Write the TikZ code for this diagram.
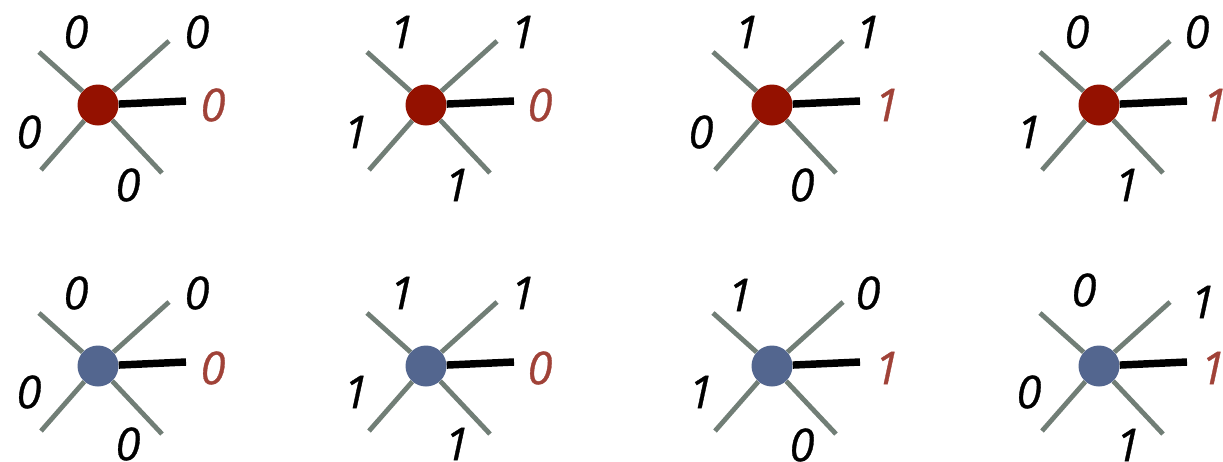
\documentclass[tikz,border=0pt]{standalone}
\usepackage{fontspec}
\setmainfont{Open Sans}
\definecolor{dotred}{HTML}{941100}
\definecolor{dotblue}{HTML}{53668F}
\definecolor{spokegrey}{HTML}{717E76}
\definecolor{labred}{HTML}{A04238}
\tikzset{
  dot/.style={circle,fill=#1,minimum size=30.75pt,inner sep=0pt},
  spoke/.style={draw=spokegrey,line width=3.6pt},
  outedge/.style={draw=black,line width=5.6pt},
  val/.style={inner sep=0pt,font=\fontsize{34}{34}\selectfont\itshape\addfontfeature{FakeBold=0.7}},
  outval/.style={val,text=labred}
}
\newcommand{\mypanel}[3]{%
  \node[dot=#3] (#1) at (0,0) {};
  \coordinate (#1ul) at (-59,-53);
  \coordinate (#1ur) at (71,-64);
  \coordinate (#1ll) at (-57,65);
  \coordinate (#1lr) at (64,68);
  \coordinate (#1o) at (88,-4);
  \draw[spoke] (#1) -- (#1ul);
  \draw[spoke] (#1) -- (#1ur);
  \draw[spoke] (#1) -- (#1ll);
  \draw[spoke] (#1) -- (#1lr);
  \draw[outedge] (#1) -- (#1o);
}
\begin{document}
\begin{tikzpicture}[x=0.75pt,y=-0.75pt]
\useasboundingbox (0,0) rectangle (1223,461);
% top row
\begin{scope}[shift={(98,105)}]
  \mypanel{a}{}{dotred}
  \node[val] (a1) at (-22,-73) {0};
  \node[val] (a2) at (99,-73) {0};
  \node[outval] (a3) at (115,0) {0};
  \node[val] (a4) at (-69,27) {0};
  \node[val] (a5) at (30,80) {0};
\end{scope}
\begin{scope}[shift={(426,105)}]
  \mypanel{b}{}{dotred}
  \node[val] (b1) at (-24,-73) {1};
  \node[val] (b2) at (97,-73) {1};
  \node[outval] (b3) at (114,0) {0};
  \node[val] (b4) at (-70,27) {1};
  \node[val] (b5) at (31,80) {1};
\end{scope}
\begin{scope}[shift={(772,105)}]
  \mypanel{c}{}{dotred}
  \node[val] (c1) at (-25,-73) {1};
  \node[val] (c2) at (96,-73) {1};
  \node[outval] (c3) at (115,0) {1};
  \node[val] (c4) at (-71,27) {0};
  \node[val] (c5) at (30,80) {0};
\end{scope}
\begin{scope}[shift={(1099,105)}]
  \mypanel{d}{}{dotred}
  \node[val] (d1) at (-22,-73) {0};
  \node[val] (d2) at (98,-73) {0};
  \node[outval] (d3) at (116,0) {1};
  \node[val] (d4) at (-70,27) {1};
  \node[val] (d5) at (28,80) {1};
\end{scope}
% bottom row
\begin{scope}[shift={(98,366)}]
  \mypanel{e}{}{dotblue}
  \node[val] (e1) at (-22,-73) {0};
  \node[val] (e2) at (99,-73) {0};
  \node[outval] (e3) at (115,2) {0};
  \node[val] (e4) at (-69,26) {0};
  \node[val] (e5) at (30,78) {0};
\end{scope}
\begin{scope}[shift={(426,366)}]
  \mypanel{f}{}{dotblue}
  \node[val] (f1) at (-24,-73) {1};
  \node[val] (f2) at (97,-73) {1};
  \node[outval] (f3) at (114,2) {0};
  \node[val] (f4) at (-70,26) {1};
  \node[val] (f5) at (31,78) {1};
\end{scope}
\begin{scope}[shift={(772,366)}]
  \mypanel{g}{}{dotblue}
  \node[val] (g1) at (-32,-71) {1};
  \node[val] (g2) at (96,-73) {0};
  \node[outval] (g3) at (115,2) {1};
  \node[val] (g4) at (-71,26) {1};
  \node[val] (g5) at (30,79) {0};
\end{scope}
\begin{scope}[shift={(1099,366)}]
  \mypanel{h}{}{dotblue}
  \node[val] (h1) at (-15,-76) {0};
  \node[val] (h2) at (104,-64) {1};
  \node[outval] (h3) at (114,2) {1};
  \node[val] (h4) at (-70,26) {0};
  \node[val] (h5) at (29,79) {1};
\end{scope}
\end{tikzpicture}
\end{document}
